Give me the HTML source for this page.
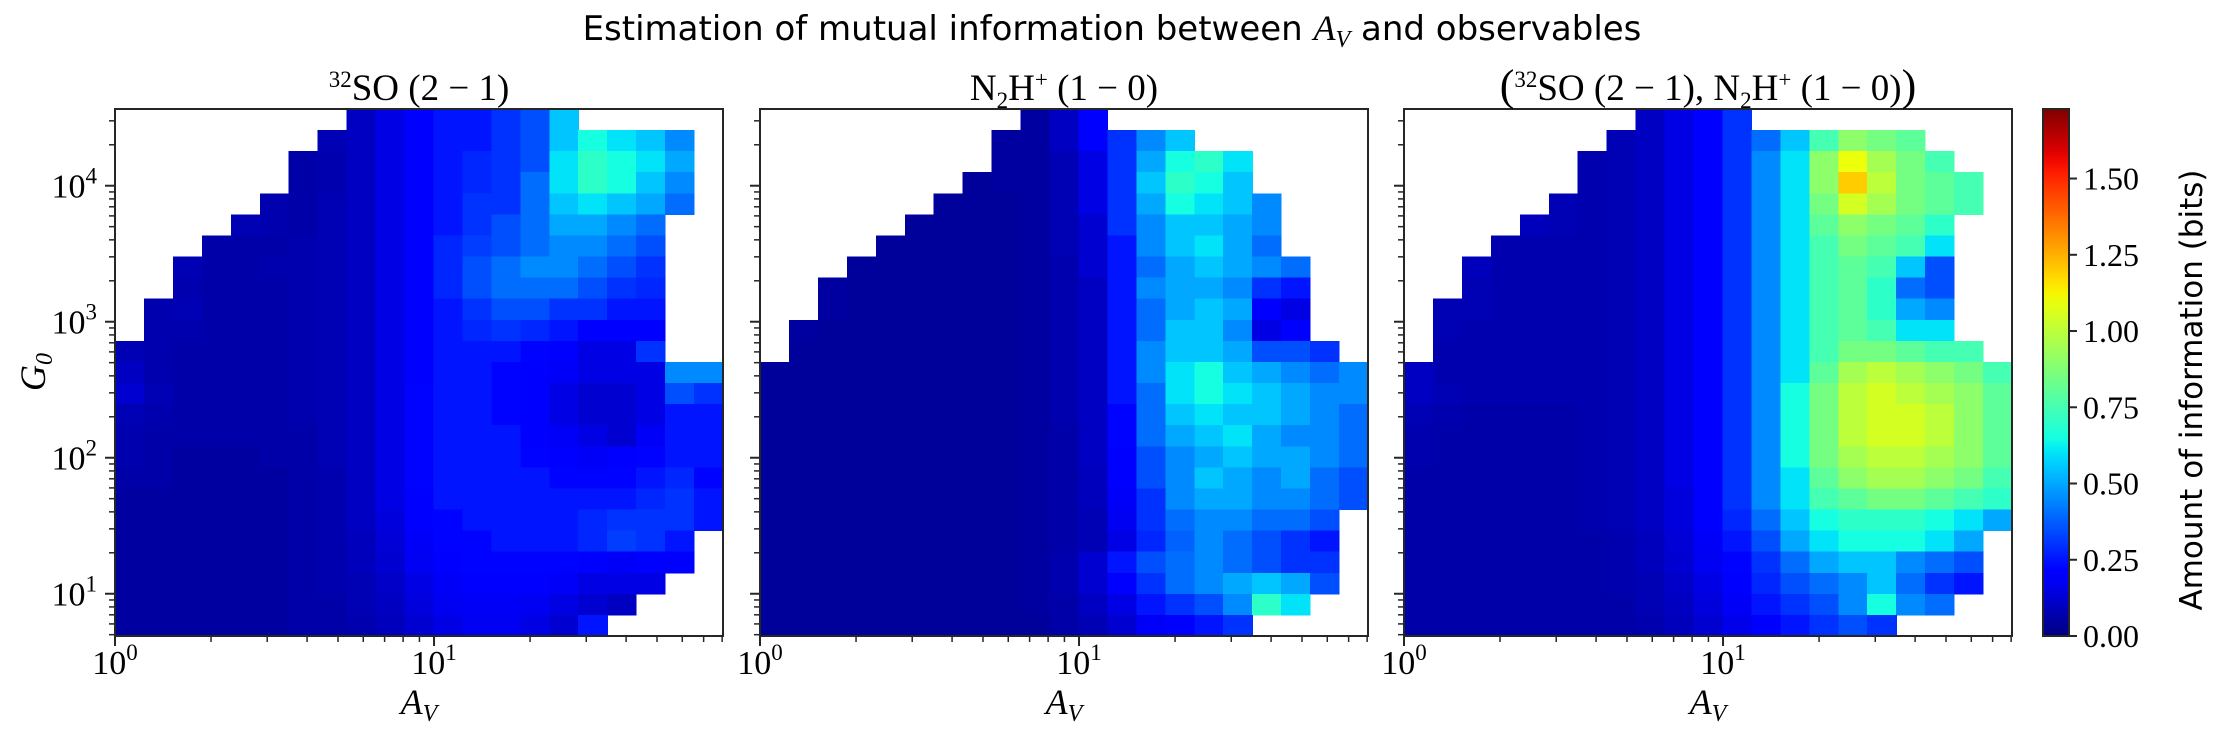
<!DOCTYPE html>
<html><head><meta charset="utf-8">
<style>
html,body{margin:0;padding:0;background:#fff;}
svg{display:block;}
.serif{font-family:"Liberation Serif","DejaVu Serif",serif;}
.sans{font-family:"DejaVu Sans","Liberation Sans",sans-serif;}
</style></head>
<body>
<svg id="chart" width="2224" height="737" viewBox="0 0 2224 737" xmlns="http://www.w3.org/2000/svg">
<defs><linearGradient id="jetgrad" x1="0" y1="1" x2="0" y2="0"></linearGradient></defs>
<text class="sans" x="1112" y="40" font-size="34" text-anchor="middle" fill="#000">Estimation of mutual information between <tspan class="serif" font-style="italic" font-size="36">A</tspan><tspan class="serif" font-style="italic" font-size="24" dy="7">V</tspan><tspan dy="-7"> and observables</tspan></text>
<g id="panels"></g>
<g id="colorbar"></g>
</svg>
<script>
const E = null;
const xTickValues = [1, 10];
const xTickLabels = ["0", "1"];
const yTickValues = [10, 100, 1000, 10000];
const yTickLabels = ["1", "2", "3", "4"];
const cbTickValues = [0, 0.25, 0.5, 0.75, 1.0, 1.25, 1.5];
const cbTickLabels = ["0.00", "0.25", "0.50", "0.75", "1.00", "1.25", "1.50"];
const cbMax = 1.728;
const avMin = 1, avMax = 80.5;
const g0Min = 4.89, g0Max = 36650;

const soRows = [
[E,E,E,E,E,E,E,E,.1,.15,.2,.25,.25,.3,.35,.55,E,E,E,E,E],
[E,E,E,E,E,E,E,.08,.1,.15,.2,.25,.25,.3,.35,.55,.65,.6,.55,.45,E],
[E,E,E,E,E,E,.06,.07,.1,.15,.2,.25,.28,.3,.35,.6,.7,.65,.6,.5,E],
[E,E,E,E,E,E,.06,.07,.1,.15,.2,.25,.28,.3,.4,.6,.7,.65,.55,.45,E],
[E,E,E,E,E,.07,.06,.08,.1,.15,.2,.25,.3,.3,.4,.55,.6,.55,.5,.4,E],
[E,E,E,E,.08,.07,.06,.08,.1,.15,.2,.25,.3,.35,.4,.5,.5,.45,.4,E,E],
[E,E,E,.06,.06,.06,.07,.08,.1,.15,.2,.28,.32,.35,.4,.45,.45,.4,.35,E,E],
[E,E,.08,.06,.06,.07,.07,.08,.1,.15,.2,.28,.35,.4,.45,.45,.4,.35,.3,E,E],
[E,E,.07,.06,.06,.06,.07,.08,.1,.15,.2,.28,.35,.4,.4,.4,.35,.3,.28,E,E],
[E,.07,.08,.06,.06,.06,.07,.08,.1,.15,.2,.25,.3,.35,.35,.3,.3,.25,.25,E,E],
[E,.07,.07,.06,.06,.06,.07,.08,.1,.15,.2,.25,.28,.3,.28,.25,.2,.2,.2,E,E],
[.08,.07,.06,.06,.06,.06,.07,.08,.1,.15,.2,.25,.25,.25,.22,.2,.15,.15,.3,E,E],
[.1,.07,.06,.06,.06,.06,.07,.08,.1,.15,.2,.25,.25,.22,.2,.18,.15,.15,.15,.45,.45],
[.12,.08,.06,.06,.06,.06,.07,.08,.1,.15,.22,.25,.25,.22,.2,.15,.12,.12,.15,.35,.3],
[.08,.07,.06,.06,.06,.06,.07,.08,.1,.15,.22,.25,.25,.22,.2,.15,.12,.12,.15,.25,.25],
[.07,.06,.06,.06,.06,.06,.06,.08,.1,.15,.22,.25,.25,.25,.2,.18,.15,.12,.18,.25,.25],
[.07,.06,.05,.05,.05,.06,.06,.08,.1,.15,.22,.25,.25,.25,.22,.2,.18,.2,.22,.25,.25],
[.06,.06,.05,.05,.05,.05,.06,.07,.1,.15,.22,.25,.25,.25,.25,.22,.22,.22,.25,.28,.22],
[.05,.05,.05,.05,.05,.05,.06,.07,.1,.15,.2,.25,.25,.25,.25,.25,.25,.25,.28,.3,.25],
[.05,.05,.05,.05,.05,.05,.06,.07,.1,.14,.2,.22,.25,.25,.25,.25,.28,.3,.3,.3,.25],
[.05,.05,.05,.05,.05,.05,.06,.07,.09,.13,.18,.22,.22,.25,.25,.25,.28,.32,.3,.25,E],
[.05,.05,.05,.05,.05,.05,.06,.07,.09,.12,.17,.2,.22,.22,.22,.22,.2,.18,.2,.2,E],
[.05,.05,.05,.05,.05,.05,.06,.07,.08,.11,.15,.18,.2,.2,.2,.18,.15,.15,.15,E,E],
[.05,.05,.05,.05,.05,.05,.06,.06,.08,.1,.14,.17,.18,.18,.17,.15,.12,.1,E,E,E],
[.05,.05,.05,.05,.05,.05,.06,.06,.07,.09,.12,.15,.17,.17,.15,.12,.25,E,E,E,E]
];

const n2hRows = [
[E,E,E,E,E,E,E,E,E,.05,.1,.2,E,E,E,E,E,E,E,E,E],
[E,E,E,E,E,E,E,E,.05,.05,.1,.2,.3,.45,.55,E,E,E,E,E,E],
[E,E,E,E,E,E,E,E,.05,.05,.08,.15,.3,.5,.65,.7,.6,E,E,E,E],
[E,E,E,E,E,E,E,.04,.05,.05,.08,.15,.3,.55,.7,.65,.55,E,E,E,E],
[E,E,E,E,E,E,.04,.04,.04,.05,.08,.15,.3,.5,.65,.6,.55,.45,E,E,E],
[E,E,E,E,E,.04,.04,.04,.04,.05,.08,.12,.3,.45,.55,.55,.5,.45,E,E,E],
[E,E,E,E,.04,.04,.04,.04,.04,.05,.08,.12,.25,.45,.55,.6,.5,.4,E,E,E],
[E,E,E,.04,.04,.04,.04,.04,.04,.05,.07,.12,.25,.4,.5,.55,.5,.45,.4,E,E],
[E,E,.05,.04,.04,.04,.04,.04,.04,.05,.07,.1,.25,.45,.5,.5,.45,.3,.25,E,E],
[E,E,.05,.04,.04,.04,.04,.04,.04,.05,.07,.1,.25,.4,.5,.55,.5,.2,.15,E,E],
[E,.05,.04,.04,.04,.04,.04,.04,.04,.05,.07,.1,.25,.4,.55,.55,.45,.15,.2,E,E],
[E,.04,.04,.04,.04,.04,.04,.04,.04,.05,.07,.1,.25,.45,.55,.55,.5,.35,.35,.3,E],
[.04,.04,.04,.04,.04,.04,.04,.04,.04,.05,.07,.1,.25,.45,.6,.65,.55,.5,.45,.4,.45],
[.04,.04,.04,.04,.04,.04,.04,.04,.04,.05,.07,.1,.25,.4,.6,.65,.6,.55,.5,.45,.45],
[.04,.04,.04,.04,.04,.04,.04,.04,.04,.05,.07,.1,.22,.4,.55,.6,.55,.55,.5,.45,.4],
[.04,.04,.04,.04,.04,.04,.04,.04,.04,.05,.06,.1,.22,.4,.5,.55,.6,.5,.45,.45,.4],
[.04,.04,.04,.04,.04,.04,.04,.04,.04,.05,.06,.1,.2,.35,.45,.5,.55,.5,.5,.45,.4],
[.04,.04,.04,.04,.04,.04,.04,.04,.04,.05,.06,.09,.2,.35,.45,.55,.5,.45,.5,.4,.35],
[.04,.04,.04,.04,.04,.04,.04,.04,.04,.05,.06,.09,.18,.3,.45,.5,.5,.45,.45,.4,.35],
[.04,.04,.04,.04,.04,.04,.04,.04,.04,.05,.06,.08,.17,.3,.4,.45,.45,.4,.4,.35,E],
[.04,.04,.04,.04,.04,.04,.04,.04,.04,.05,.06,.08,.15,.28,.38,.45,.4,.35,.3,.25,E],
[.04,.04,.04,.04,.04,.04,.04,.04,.04,.05,.07,.12,.25,.35,.4,.45,.4,.35,.3,.3,E],
[.04,.04,.04,.04,.04,.04,.04,.04,.04,.05,.07,.12,.2,.3,.4,.45,.5,.55,.5,.35,E],
[.04,.04,.04,.04,.04,.04,.04,.04,.04,.05,.06,.1,.15,.25,.3,.35,.45,.7,.6,E,E],
[.04,.04,.04,.04,.04,.04,.04,.04,.04,.04,.06,.08,.12,.18,.2,.25,.3,E,E,E,E]
];

const combRows = [
[E,E,E,E,E,E,E,E,.1,.15,.2,.3,E,E,E,E,E,E,E,E,E],
[E,E,E,E,E,E,E,.08,.1,.15,.2,.3,.4,.55,.75,.9,.85,.8,E,E,E],
[E,E,E,E,E,E,.07,.08,.1,.15,.2,.3,.45,.6,.9,1.1,.95,.85,.75,E,E],
[E,E,E,E,E,E,.07,.08,.1,.15,.2,.3,.45,.6,.9,1.2,1.0,.85,.8,.75,E],
[E,E,E,E,E,.08,.07,.08,.1,.15,.2,.3,.45,.6,.85,1.05,.95,.85,.8,.75,E],
[E,E,E,E,.09,.08,.07,.08,.1,.15,.2,.3,.45,.6,.8,.9,.85,.8,.7,E,E],
[E,E,E,.07,.07,.07,.07,.08,.1,.15,.2,.3,.45,.6,.75,.85,.8,.75,.6,E,E],
[E,E,.09,.07,.07,.07,.07,.08,.1,.15,.2,.3,.45,.6,.75,.8,.75,.55,.35,E,E],
[E,E,.08,.07,.07,.07,.07,.08,.1,.15,.2,.3,.45,.6,.75,.8,.7,.4,.35,E,E],
[E,.08,.08,.07,.07,.07,.07,.08,.1,.15,.2,.3,.45,.6,.75,.8,.7,.5,.45,E,E],
[E,.08,.07,.07,.07,.07,.07,.08,.1,.15,.2,.3,.45,.6,.75,.8,.75,.6,.6,E,E],
[E,.07,.07,.07,.07,.07,.07,.08,.1,.15,.2,.3,.45,.6,.75,.85,.85,.8,.75,.75,E],
[.1,.07,.07,.07,.07,.07,.07,.08,.1,.15,.2,.3,.45,.6,.8,.95,1.0,.95,.9,.85,.75],
[.1,.08,.07,.07,.07,.07,.07,.08,.1,.15,.2,.3,.45,.65,.85,1.0,1.05,1.0,.95,.9,.8],
[.08,.07,.06,.06,.06,.06,.07,.08,.1,.15,.2,.3,.45,.65,.85,1.0,1.05,1.05,1.0,.9,.8],
[.07,.06,.06,.06,.06,.06,.07,.08,.1,.15,.2,.3,.45,.65,.85,1.0,1.05,1.05,1.0,.9,.8],
[.07,.06,.06,.06,.06,.06,.07,.08,.1,.15,.2,.3,.45,.65,.85,.95,1.0,1.0,.95,.9,.8],
[.06,.06,.06,.06,.06,.06,.07,.08,.1,.15,.2,.3,.45,.6,.8,.9,.95,.95,.9,.85,.75],
[.06,.06,.06,.06,.06,.06,.07,.08,.1,.14,.2,.3,.45,.6,.75,.8,.85,.85,.8,.75,.7],
[.06,.06,.06,.06,.06,.06,.07,.08,.1,.14,.2,.28,.4,.55,.65,.7,.7,.7,.65,.6,.5],
[.06,.06,.06,.06,.06,.06,.06,.07,.09,.13,.18,.25,.35,.5,.6,.65,.65,.65,.6,.5,E],
[.06,.06,.06,.06,.06,.06,.06,.07,.09,.12,.17,.22,.3,.4,.5,.55,.55,.45,.4,.35,E],
[.06,.06,.06,.06,.06,.06,.06,.07,.08,.11,.15,.2,.28,.35,.4,.45,.55,.4,.3,.25,E],
[.06,.06,.06,.06,.06,.06,.06,.06,.08,.1,.14,.18,.25,.3,.35,.45,.65,.45,.4,E,E],
[.06,.06,.06,.06,.06,.06,.06,.06,.07,.09,.12,.16,.2,.25,.3,.35,.3,E,E,E,E]
];

const NS = "http://www.w3.org/2000/svg";
const TOP = 109, BOTTOM = 636, PW = 608;
const panelDefs = [
  {x0: 115, rows: soRows, key: "so", showY: true},
  {x0: 760, rows: n2hRows, key: "n2h", showY: false},
  {x0: 1404, rows: combRows, key: "combined", showY: false}
];

function jet(v) {
  let t = Math.max(0, Math.min(1, v / cbMax));
  function interp(pts) {
    for (let i = 0; i < pts.length - 1; i++) {
      const [a, va] = pts[i], [b, vb] = pts[i + 1];
      if (t >= a && t <= b) return va + (vb - va) * (t - a) / (b - a);
    }
    return pts[pts.length - 1][1];
  }
  const r = interp([[0,0],[0.35,0],[0.66,1],[0.89,1],[1,0.5]]);
  const g = interp([[0,0],[0.125,0],[0.375,1],[0.64,1],[0.91,0],[1,0]]);
  const b = interp([[0,0.5],[0.11,1],[0.34,1],[0.65,0],[1,0]]);
  return "rgb(" + Math.round(r*255) + "," + Math.round(g*255) + "," + Math.round(b*255) + ")";
}
function el(tag, attrs, parent) {
  const e = document.createElementNS(NS, tag);
  for (const k in attrs) e.setAttribute(k, attrs[k]);
  parent.appendChild(e);
  return e;
}
function xScale(x0, a) {
  return x0 + (Math.log10(a) - Math.log10(avMin)) / (Math.log10(avMax) - Math.log10(avMin)) * PW;
}
function yScale(g) {
  return BOTTOM - (Math.log10(g) - Math.log10(g0Min)) / (Math.log10(g0Max) - Math.log10(g0Min)) * (BOTTOM - TOP);
}
function cbScale(v) { return BOTTOM - v / cbMax * (BOTTOM - TOP); }

const panelsG = document.getElementById("panels");
const subtitles = [
  '<tspan font-size="23" dy="-13">32</tspan><tspan dy="13">SO (2 − 1)</tspan>',
  '<tspan>N</tspan><tspan font-size="23" dy="8">2</tspan><tspan dy="-8">H</tspan><tspan font-size="23" dy="-13">+</tspan><tspan dy="13"> (1 − 0)</tspan>',
  '<tspan font-size="44">(</tspan><tspan font-size="23" dy="-13">32</tspan><tspan dy="13">SO (2 − 1), N</tspan><tspan font-size="23" dy="8">2</tspan><tspan dy="-8">H</tspan><tspan font-size="23" dy="-13">+</tspan><tspan dy="13"> (1 − 0)</tspan><tspan font-size="44">)</tspan>'
];

panelDefs.forEach((p, pi) => {
  const g = el("g", {}, panelsG);
  
  
  const nR = p.rows.length, nC = p.rows[0].length;
  const lxMin = Math.log10(avMin), lxMax = Math.log10(avMax);
  const lyMin = Math.log10(g0Min), lyMax = Math.log10(g0Max);
  const cells = el("g", {"shape-rendering": "crispEdges"}, g);
  
  
  for (let r = 0; r < nR; r++) {
    for (let c = 0; c < nC; c++) {
      const v = p.rows[r][c];
      if (v === null) continue;
      const aL = Math.pow(10, lxMin + (lxMax - lxMin) * c / nC);
      const aR = Math.pow(10, lxMin + (lxMax - lxMin) * (c + 1) / nC);
      const gT = Math.pow(10, lyMax - (lyMax - lyMin) * r / nR);
      const gB = Math.pow(10, lyMax - (lyMax - lyMin) * (r + 1) / nR);
      const x1 = xScale(p.x0, aL), x2 = xScale(p.x0, aR);
      const y1 = yScale(gT), y2 = yScale(gB);
      const rect = el("rect", {x: x1.toFixed(2), y: y1.toFixed(2), width: (x2 - x1 + 0.6).toFixed(2), height: (y2 - y1 + 0.6).toFixed(2), fill: jet(v)}, cells);
      
      
    }
  }
  const frame = el("rect", {x: p.x0, y: TOP, width: PW, height: BOTTOM - TOP, fill: "none", stroke: "#262626", "stroke-width": 2}, g);
  
  
  const xt = el("g", {stroke: "#262626"}, g);
  
  
  for (let d = 0; d < 2; d++) {
    for (let m = 1; m <= 9; m++) {
      const a = m * Math.pow(10, d);
      if (a < avMin || a > avMax) continue;
      const x = xScale(p.x0, a);
      el("line", {x1: x, x2: x, y1: BOTTOM, y2: BOTTOM + (m === 1 ? 10 : 6), "stroke-width": m === 1 ? 2 : 1.5}, xt);
    }
  }
  xTickValues.forEach((a, i) => {
    const x = xScale(p.x0, a);
    const t = el("text", {x: x, y: 674, "text-anchor": "middle", "font-size": 34, class: "serif", fill: "#000"}, g);
    
    
    t.innerHTML = '10<tspan font-size="23" dy="-14">' + xTickLabels[i] + '</tspan>';
  });
  const xl = el("text", {x: p.x0 + PW / 2, y: 714, "text-anchor": "middle", "font-size": 36, "font-style": "italic", class: "serif", fill: "#000"}, g);
  
  
  xl.innerHTML = 'A<tspan font-size="24" dy="7">V</tspan>';
  const yt = el("g", {stroke: "#262626"}, g);
  
  
  for (let d = 0; d < 5; d++) {
    for (let m = 1; m <= 9; m++) {
      const gv = m * Math.pow(10, d);
      if (gv < g0Min || gv > g0Max) continue;
      const y = yScale(gv);
      el("line", {x1: p.x0, x2: p.x0 - (m === 1 ? 10 : 6), y1: y, y2: y, "stroke-width": m === 1 ? 2 : 1.5}, yt);
    }
  }
  if (p.showY) {
    yTickValues.forEach((gv, i) => {
      const t = el("text", {x: 97, y: yScale(gv) + 12, "text-anchor": "end", "font-size": 34, class: "serif", fill: "#000"}, g);
      
      
      t.innerHTML = '10<tspan font-size="23" dy="-14">' + yTickLabels[i] + '</tspan>';
    });
    const yl = el("text", {x: 0, y: 0, transform: "translate(45,372) rotate(-90)", "text-anchor": "middle", "font-size": 36, "font-style": "italic", class: "serif", fill: "#000"}, g);
    
    
    yl.innerHTML = 'G<tspan font-size="24" dy="7">0</tspan>';
  }
  const st = el("text", {x: p.x0 + PW / 2, y: 100, "text-anchor": "middle", "font-size": 37, class: "serif", fill: "#000"}, g);
  
  
  st.innerHTML = subtitles[pi];
});

const grad = document.getElementById("jetgrad");
for (let i = 0; i <= 40; i++) {
  el("stop", {offset: (i / 40), "stop-color": jet(cbMax * i / 40)}, grad);
}
const cb = document.getElementById("colorbar");
const CBX = 2043, CBW = 26;
const bar = el("rect", {x: CBX, y: TOP, width: CBW, height: BOTTOM - TOP, fill: "url(#jetgrad)", stroke: "#262626", "stroke-width": 2}, cb);


cbTickValues.forEach((v, i) => {
  const y = cbScale(v);
  el("line", {x1: CBX + CBW, x2: CBX + CBW + 8, y1: y, y2: y, stroke: "#262626", "stroke-width": 2}, cb);
  const t = el("text", {x: CBX + CBW + 14, y: y + 11, "font-size": 32, class: "serif", fill: "#000"}, cb);
  
  
  t.textContent = cbTickLabels[i];
});
const cbl = el("text", {x: 0, y: 0, transform: "translate(2202,390) rotate(-90)", "text-anchor": "middle", "font-size": 31, class: "sans", fill: "#000"}, cb);


cbl.textContent = "Amount of information (bits)";
</script>
</body></html>
